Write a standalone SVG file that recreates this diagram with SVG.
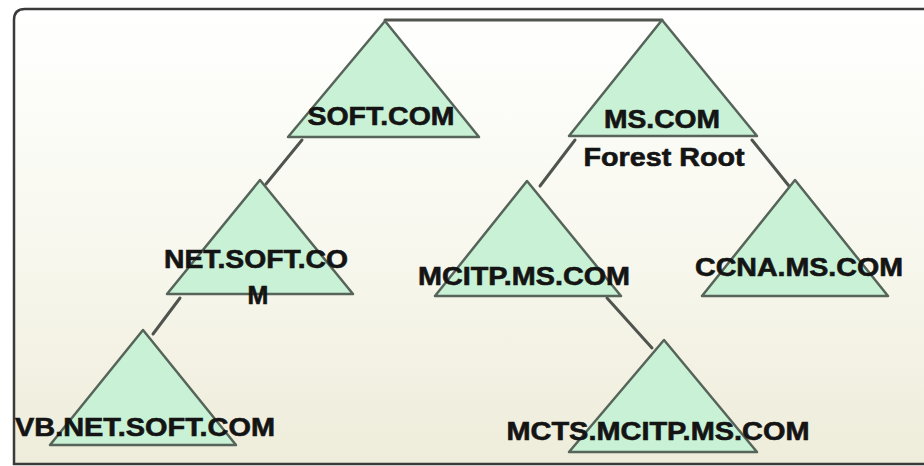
<svg xmlns="http://www.w3.org/2000/svg" width="924" height="466" viewBox="0 0 924 466">
<defs>
<linearGradient id="bg" x1="0" y1="0" x2="0" y2="1">
<stop offset="0" stop-color="#ffffff"/>
<stop offset="0.5" stop-color="#f8f8ef"/>
<stop offset="1" stop-color="#eeecda"/>
</linearGradient>
</defs>
<style>
.tri{fill:#c8f1d6;stroke:#56645a;stroke-width:2.5;stroke-linejoin:round}
.con{stroke:#50544f;stroke-width:3;fill:none;stroke-linecap:round}
.lbl{font-family:"Liberation Sans",Arial,sans-serif;font-weight:bold;font-size:25px;fill:#141414;stroke:#141414;stroke-width:0.6;text-anchor:middle}
</style>
<rect x="0" y="0" width="924" height="466" fill="#ffffff"/>
<path d="M14,464 L14,20 Q14,9 25,9 L940,9 L940,464 Z" fill="url(#bg)" stroke="#3a3a3a" stroke-width="2.5"/>
<g id="connectors">
<line class="con" x1="385" y1="20" x2="662" y2="20"/>
<line class="con" x1="302" y1="140" x2="266" y2="184"/>
<line class="con" x1="180" y1="298" x2="153" y2="334"/>
<line class="con" x1="575" y1="140" x2="540" y2="186"/>
<line class="con" x1="752" y1="140" x2="789" y2="186"/>
<line class="con" x1="607" y1="298" x2="652" y2="348"/>
</g>
<g id="soft">
<polygon class="tri" points="385,21 479,137 288,137"/>
<text class="lbl" x="381" y="125" textLength="147" lengthAdjust="spacingAndGlyphs">SOFT.COM</text>
</g>
<g id="ms">
<polygon class="tri" points="662,20 757,136 569,136"/>
<text class="lbl" x="662" y="128" textLength="116" lengthAdjust="spacingAndGlyphs">MS.COM</text>
<text class="lbl" x="664" y="166" textLength="161" lengthAdjust="spacingAndGlyphs">Forest Root</text>
</g>
<g id="netsoft">
<polygon class="tri" points="260,180 353,294 167,294"/>
<text class="lbl" x="256" y="268" textLength="184" lengthAdjust="spacingAndGlyphs">NET.SOFT.CO</text>
<text class="lbl" x="258" y="304">M</text>
</g>
<g id="vbnetsoft">
<polygon class="tri" points="143,330 236,445 50,445"/>
<text class="lbl" x="145" y="436" textLength="260" lengthAdjust="spacingAndGlyphs">VB.NET.SOFT.COM</text>
</g>
<g id="mcitp">
<polygon class="tri" points="527,181 621,296 435,296"/>
<text class="lbl" x="524" y="285" textLength="212" lengthAdjust="spacingAndGlyphs">MCITP.MS.COM</text>
</g>
<g id="ccna">
<polygon class="tri" points="795,180 888,296 702,296"/>
<text class="lbl" x="799" y="276" textLength="208" lengthAdjust="spacingAndGlyphs">CCNA.MS.COM</text>
</g>
<g id="mcts">
<polygon class="tri" points="664,340 757,452 569,452"/>
<text class="lbl" x="658" y="440" textLength="303" lengthAdjust="spacingAndGlyphs">MCTS.MCITP.MS.COM</text>
</g>
</svg>
